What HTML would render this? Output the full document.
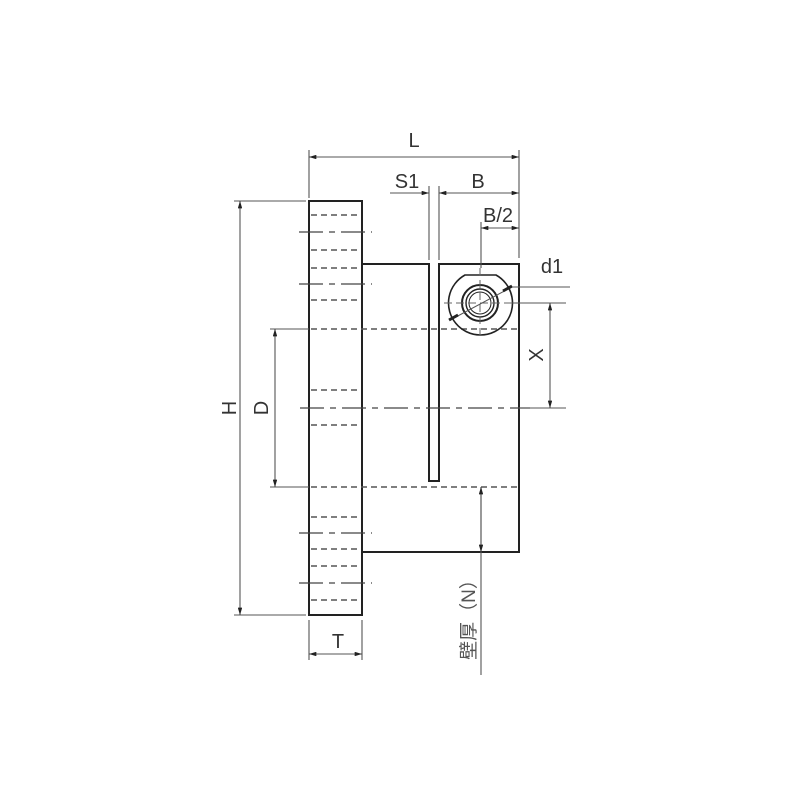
<!DOCTYPE html>
<html><head><meta charset="utf-8"><style>body{margin:0;background:#fff}</style></head><body>
<svg width="800" height="800" viewBox="0 0 800 800" xmlns="http://www.w3.org/2000/svg" font-family="Liberation Sans, sans-serif">
<defs>
<marker id="a" viewBox="0 0 10 6" refX="10" refY="3" markerWidth="8" markerHeight="4" orient="auto-start-reverse"><path d="M0,0L10,3L0,6z" fill="#222"/></marker>
</defs>
<g fill="none" stroke="#222" stroke-width="2">
<rect x="309" y="201" width="53" height="414"/>
<path d="M362,264H429V481H439V264H519V552H362"/>
</g>
<g stroke="#555" stroke-width="1.5" stroke-dasharray="6,4" fill="none">
<path d="M311,215H360M311,250H360M311,268H360M311,300H360M311,390H360M311,425H360M311,517H360M311,549H360M311,566H360M311,600H360"/>
<path d="M311,329H519M311,487H519"/>
</g>
<g stroke="#444" stroke-width="1.3" stroke-dasharray="24,6,6,6" fill="none">
<path d="M299,232H372M299,284H372M299,533H372M299,583H372"/>
<path d="M300,408H530"/>
</g>
<g fill="none" stroke="#222">
<path d="M465,275H496A32,32 0 1 1 465,275Z" stroke-width="1.6"/>
<circle cx="480" cy="303" r="18" stroke-width="2"/>
<circle cx="480" cy="303" r="14" stroke-width="1.4"/>
<circle cx="480" cy="303" r="11" stroke-width="1"/>
<path d="M480,268V338M444,303H516" stroke="#666" stroke-width="1" stroke-dasharray="8,4"/>
<path d="M454,318L512,287L570,287" stroke="#555" stroke-width="1"/>
<path d="M449,320L458,315M503,291L512,286" stroke="#222" stroke-width="3"/>
</g>
<g stroke="#555" stroke-width="1.1" fill="none">
<path d="M309,150V198M519,150V258M429,186V260M439,186V260M481,222V268"/>
<path d="M309,157H519" marker-start="url(#a)" marker-end="url(#a)"/>
<path d="M390,193H429" marker-end="url(#a)"/>
<path d="M439,193H519" marker-start="url(#a)" marker-end="url(#a)"/>
<path d="M481,228H519" marker-start="url(#a)" marker-end="url(#a)"/>
<path d="M234,201H306M234,615H306"/>
<path d="M240,201V615" marker-start="url(#a)" marker-end="url(#a)"/>
<path d="M270,329H309"/>
<path d="M275,329V487" marker-start="url(#a)" marker-end="url(#a)"/>
<path d="M270,487H309"/>
<path d="M512,303H566M519,408H566"/>
<path d="M550,303V408" marker-start="url(#a)" marker-end="url(#a)"/>
<path d="M309,620V660M362,620V660"/>
<path d="M309,654H362" marker-start="url(#a)" marker-end="url(#a)"/>
<path d="M481,487V675"/>
<path d="M481,487V552" marker-start="url(#a)" marker-end="url(#a)"/>
</g>
<g fill="#333" font-size="20">
<text x="414" y="147" text-anchor="middle">L</text>
<text x="407" y="188" text-anchor="middle">S1</text>
<text x="478" y="188" text-anchor="middle">B</text>
<text x="498" y="222" text-anchor="middle">B/2</text>
<text x="552" y="273" text-anchor="middle">d1</text>
<text transform="translate(543,355) rotate(-90)" text-anchor="middle">X</text>
<text transform="translate(236,408) rotate(-90)" text-anchor="middle">H</text>
<text transform="translate(268,408) rotate(-90)" text-anchor="middle">D</text>
<text x="338" y="648" text-anchor="middle">T</text>
<text transform="translate(475,615) rotate(-90)" text-anchor="middle" font-size="19" font-family="Liberation Sans, Noto Sans CJK SC, sans-serif" fill="#555">壁厚（N）</text>
</g>
</svg>
</body></html>
